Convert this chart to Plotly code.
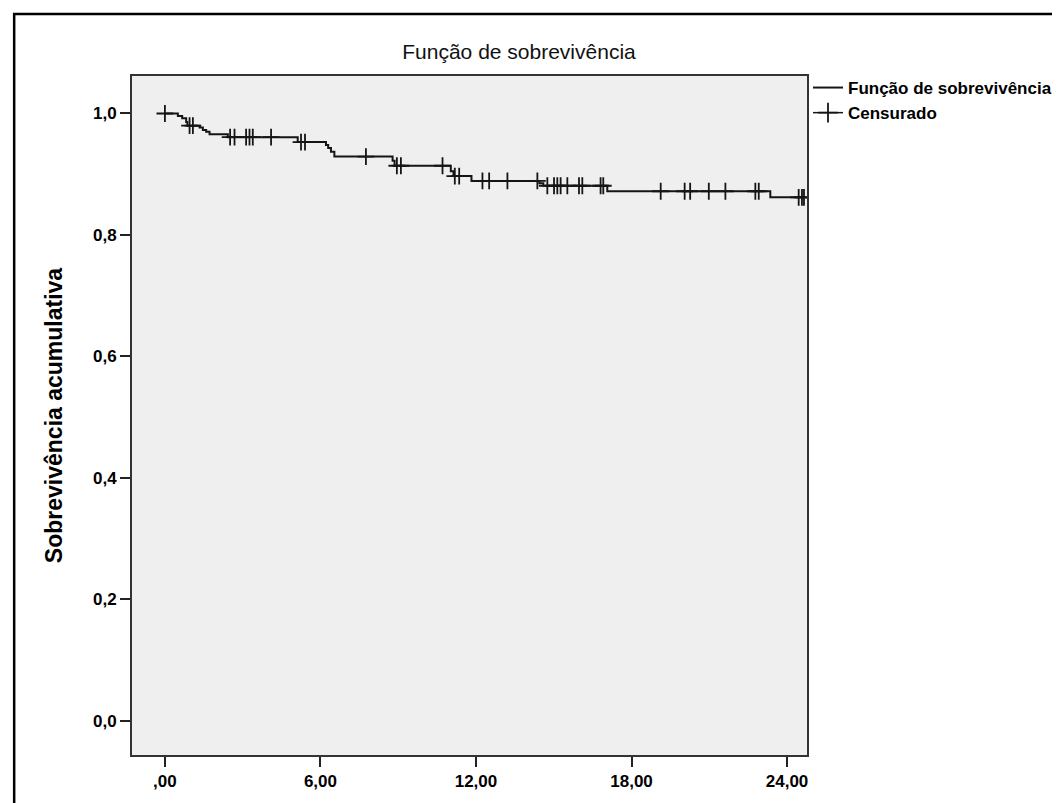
import numpy as np
import plotly.graph_objects as go

# Kaplan-Meier step function (time in months, cumulative survival after the step)
event_times = [0.0, 0.50, 0.666, 0.82, 0.867, 1.337, 1.464, 1.591, 1.722, 2.427, 5.123,
               6.213, 6.298, 6.406, 6.537, 8.783, 8.860, 11.029, 11.133, 11.826,
               14.445, 14.599, 17.065, 23.355]
survival = [1.000, 0.996, 0.992, 0.986, 0.980, 0.977, 0.973, 0.970, 0.966, 0.961, 0.953,
            0.948, 0.943, 0.937, 0.929, 0.922, 0.914, 0.905, 0.897, 0.889,
            0.885, 0.881, 0.872, 0.862]
end_time = 24.653

# censored observations (months)
censored_times = [0.0, 0.951, 1.079, 2.515, 2.685, 3.132, 3.263, 3.390, 4.095, 5.250, 5.404,
                  7.754, 8.948, 9.103, 10.709, 11.183, 11.352, 12.250, 12.508, 13.213, 14.368,
                  14.753, 15.011, 15.138, 15.266, 15.524, 15.974, 16.102, 16.807, 16.911,
                  19.126, 20.050, 20.262, 20.982, 21.622, 22.777, 22.909, 24.449, 24.576, 24.653]

x_tickvals = [0, 6, 12, 18, 24]
x_ticktext = [",00", "6,00", "12,00", "18,00", "24,00"]
y_tickvals = [0.0, 0.2, 0.4, 0.6, 0.8, 1.0]
y_ticktext = ["0,0", "0,2", "0,4", "0,6", "0,8", "1,0"]

title_text = "Função de sobrevivência"
y_title = "Sobrevivência acumulativa"
legend_names = ["Função de sobrevivência", "Censurado"]

# survival at censoring times, looked up on the step function
ev = np.array(event_times)
sv = np.array(survival)
cens_surv = [float(sv[np.searchsorted(ev, t, side="right") - 1]) for t in censored_times]

line_x = list(event_times) + [end_time]
line_y = list(survival) + [survival[-1]]

FONT = "Liberation Sans, Arial, sans-serif"
INK = "#151515"

fig = go.Figure()
fig.add_trace(go.Scatter(
    x=line_x, y=line_y, mode="lines", line=dict(shape="hv", color=INK, width=2),
    name=legend_names[0], hoverinfo="skip"))
fig.add_trace(go.Scatter(
    x=censored_times, y=cens_surv, mode="markers",
    marker=dict(symbol="cross-thin", size=12, line=dict(color=INK, width=1.8)),
    name=legend_names[1], showlegend=False))
# legend entry for the censored marks (line through a cross, as in the original key)
fig.add_trace(go.Scatter(
    x=[None], y=[None], mode="lines+markers", line=dict(color=INK, width=1.5),
    marker=dict(symbol="cross-thin", size=14, line=dict(color=INK, width=1.8)),
    name=legend_names[1]))

L, R, T, B = 124, 260, 68, 56
W, H = 1060, 803
pw, ph = W - L - R, H - T - B

fig.update_layout(
    width=W, height=H,
    margin=dict(l=L, r=R, t=T, b=B, pad=0),
    paper_bgcolor="white",
    plot_bgcolor="#efefef",
    font=dict(family=FONT, color="black"),
    title=dict(text=title_text, x=511 / W, xref="container", xanchor="center",
               y=1 - 44 / H, yref="container", yanchor="middle",
               font=dict(size=21, family=FONT, color="#111111")),
    showlegend=True,
    legend=dict(x=(800 - L) / pw, y=1 + (T - 62) / ph, xanchor="left", yanchor="top",
                bgcolor="rgba(0,0,0,0)", font=dict(size=17, family=FONT, weight="bold"),
                tracegroupgap=0, itemwidth=30),
    xaxis=dict(range=[-1.27, 24.77], tickvals=x_tickvals, ticktext=x_ticktext,
               ticks="outside", ticklen=10, tickwidth=2, tickcolor="#222222",
               showgrid=False, zeroline=False,
               showline=True, linecolor="#333333", linewidth=2, mirror=True,
               tickfont=dict(size=17, family=FONT, weight="bold")),
    yaxis=dict(range=[-0.056, 1.0617], tickvals=y_tickvals, ticktext=y_ticktext,
               ticks="outside", ticklen=10, tickwidth=2, tickcolor="#222222",
               showgrid=False, zeroline=False,
               showline=True, linecolor="#333333", linewidth=2, mirror=True,
               tickfont=dict(size=17, family=FONT, weight="bold")),
    shapes=[dict(type="rect", xref="paper", yref="paper",
                 x0=(6 - L) / pw, x1=(W + 10 - L) / pw,
                 y0=-(H + 10 - (H - B)) / ph, y1=1 + (T - 6) / ph,
                 line=dict(color="black", width=2.5), fillcolor="rgba(0,0,0,0)",
                 layer="below")],
)
fig.update_yaxes(title=dict(text=y_title, standoff=24,
                            font=dict(size=23, family=FONT, weight="bold")))

fig.write_html("out.html")
